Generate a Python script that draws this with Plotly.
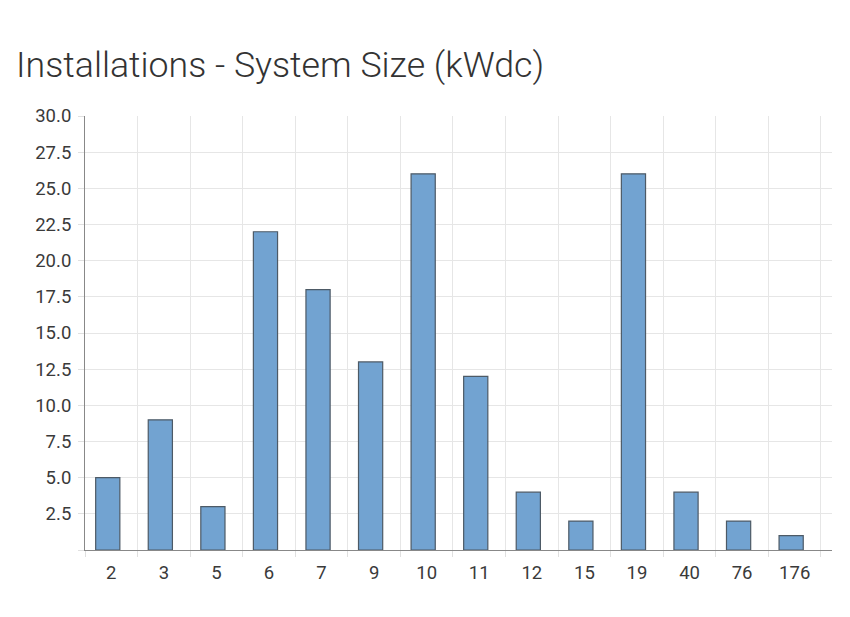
import plotly.graph_objects as go

categories = ["2", "3", "5", "6", "7", "9", "10", "11", "12", "15", "19", "40", "76", "176"]
counts = [5, 9, 3, 22, 18, 13, 26, 12, 4, 2, 26, 4, 2, 1]
y_ticks = [0, 2.5, 5, 7.5, 10, 12.5, 15, 17.5, 20, 22.5, 25, 27.5, 30]
y_labels = [""] + ["%.1f" % v for v in y_ticks[1:]]

fig = go.Figure(go.Bar(
    x=categories, y=counts,
    marker=dict(color="#72a3d1", line=dict(color="#4d5a66", width=1.2)),
    width=0.46, offset=-0.297,
))

fig.update_layout(
    width=850, height=617,
    paper_bgcolor="white", plot_bgcolor="white",
    margin=dict(l=77, r=26, t=108, b=75),
    title=dict(text="Installations - System Size (kWdc)", x=0.0095, xanchor="left",
               y=0.908, yanchor="middle",
               font=dict(family="Roboto", size=35.7, color="#333333", weight=300)),
    font=dict(family="Roboto", size=18.5, color="#3a3a3a"),
    showlegend=False,
)
fig.update_xaxes(
    type="category", tickson="boundaries", showgrid=True, gridcolor="#e6e6e6",
    showline=True, linecolor="#888888", linewidth=1,
    ticks="outside", ticklen=6, tickcolor="#e0e0e0", ticklabelstandoff=6,
    range=[-0.5, 13.71],
)
fig.update_yaxes(
    range=[0, 30], tickvals=y_ticks, ticktext=y_labels,
    showgrid=True, gridcolor="#e6e6e6", zeroline=False,
    showline=True, linecolor="#888888", linewidth=1,
    ticks="outside", ticklen=6, tickcolor="#e0e0e0", ticklabelstandoff=3,
)

fig.write_html("out.html")
